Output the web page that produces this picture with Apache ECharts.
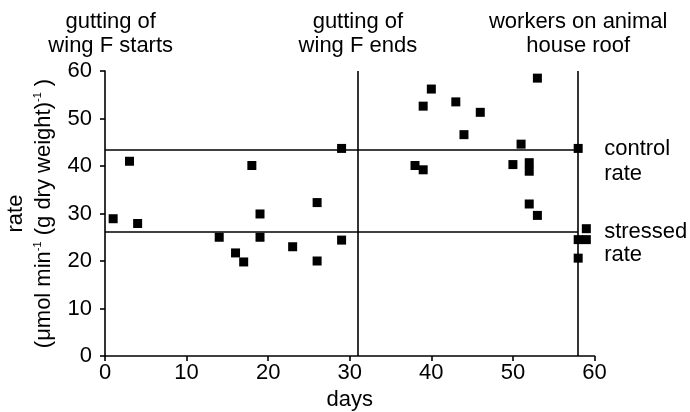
<!DOCTYPE html>
<html>
<head>
<meta charset="utf-8">
<script src="https://cdn.jsdelivr.net/npm/echarts@6/dist/echarts.min.js"></script>
<style>html,body{margin:0;padding:0;background:#fff;}#c{width:690px;height:412px;}</style>
</head>
<body>
<div id="c"></div>
<script>
// ---- data ----
const days = [1, 3, 4, 14, 16, 17, 18, 19, 19, 23, 26, 26, 29, 29,
              38, 39, 39, 40, 43, 44, 46, 50, 51, 52, 52, 52, 53, 53, 58, 58, 58, 59, 59];
const rates = [28.9, 41.0, 27.9, 25.0, 21.7, 19.8, 40.1, 29.9, 25.0, 23.0, 32.3, 20.0, 43.7, 24.4,
               40.1, 52.6, 39.2, 56.2, 53.5, 46.6, 51.3, 40.3, 44.6, 40.7, 38.9, 32.0, 58.5, 29.6, 43.7, 24.5, 20.6, 26.8, 24.5];
const controlRate = 43.5;
const stressedRate = 26.2;
const eventDays = [31, 58];
const eventLabels = ['gutting of\nwing F ends', 'workers on animal\nhouse roof'];
const startLabel = 'gutting of\nwing F starts';
const xTicks = [0, 10, 20, 30, 40, 50, 60];
const yTicks = [0, 10, 20, 30, 40, 50, 60];

const FONT = 'Liberation Sans, Arial, sans-serif';
const FS = 22;

const points = days.map((d, i) => [d, rates[i]]);

const chart = echarts.init(document.getElementById('c'), null, {renderer: 'canvas'});
const lineStyle = {color: '#000', width: 1.6, type: 'solid'};

const sideLabel = (text, lh) => ({
  show: true, position: 'end', distance: 26,
  formatter: '{a| }\n{a|' + text.split('\n').join('}\n{a|') + '}',
  rich: {a: {color: '#000', fontSize: FS, fontFamily: FONT, lineHeight: lh, align: 'left'}}
});

const markData = [
  [{coord: [0, controlRate]}, {coord: [58, controlRate], label: sideLabel('control\nrate', 25)}],
  [{coord: [0, stressedRate]}, {coord: [58, stressedRate], label: sideLabel('stressed\nrate', 23)}]
];
eventDays.forEach(d => {
  markData.push([{coord: [d, 0]}, {coord: [d, 60]}]);
});

chart.setOption({
  animation: false,
  backgroundColor: '#fff',
  grid: {left: 105, right: 95.5, top: 71, bottom: 56, containLabel: false, outerBoundsMode: 'none'},
  xAxis: {
    type: 'value', min: 0, max: 60, interval: 10,
    name: 'days', nameLocation: 'middle', nameGap: 23,
    nameTextStyle: {color: '#000', fontSize: FS, fontFamily: FONT},
    axisLine: {show: true, onZero: false, lineStyle: {color: '#000', width: 1.6}},
    axisTick: {show: true, length: 5, lineStyle: {color: '#000', width: 1.6}},
    axisLabel: {color: '#000', fontSize: FS, fontFamily: FONT, margin: 6,
      formatter: v => xTicks.includes(v) ? String(v) : ''},
    splitLine: {show: false}
  },
  yAxis: {
    type: 'value', min: 0, max: 60, interval: 10,
    name: '{a|rate}\n{a|(μmol min}{s|-1}{a| (g dry weight)}{s|-1}{a| )}',
    nameLocation: 'middle', nameRotate: 90, nameGap: 47,
    nameTextStyle: {color: '#000', fontFamily: FONT,
      rich: {
        a: {fontSize: FS, fontFamily: FONT, color: '#000', lineHeight: 28},
        s: {fontSize: 11, fontFamily: FONT, color: '#000', lineHeight: 28, verticalAlign: 'top', padding: [2, 0, 0, 0]}
      }},
    axisLine: {show: true, onZero: false, lineStyle: {color: '#000', width: 1.6}},
    axisTick: {show: true, length: 5, lineStyle: {color: '#000', width: 1.6}},
    axisLabel: {color: '#000', fontSize: FS, fontFamily: FONT, margin: 13,
      formatter: v => yTicks.includes(v) ? String(v) : ''},
    splitLine: {show: false}
  },
  series: [{
    type: 'scatter',
    data: points,
    symbol: 'rect',
    symbolSize: 9,
    itemStyle: {color: '#000', opacity: 1},
    z: 3,
    markLine: {
      silent: true,
      symbol: ['none', 'none'],
      lineStyle: lineStyle,
      label: {show: false},
      emphasis: {disabled: true},
      data: markData,
      z: 2
    }
  }],
  graphic: []
});

// top event labels, centred above their lines
const topLabels = [{day: 0.7, text: startLabel}].concat(eventDays.map((d, i) => ({day: d, text: eventLabels[i]})));
chart.setOption({
  graphic: topLabels.map(l => {
    const px = chart.convertToPixel({gridIndex: 0}, [l.day, 60]);
    return {
      type: 'text',
      x: px[0], y: 10,
      style: {text: l.text, fill: '#000', fontSize: FS, fontFamily: FONT, align: 'center', verticalAlign: 'top', lineHeight: 24}
    };
  })
});
</script>
</body>
</html>
